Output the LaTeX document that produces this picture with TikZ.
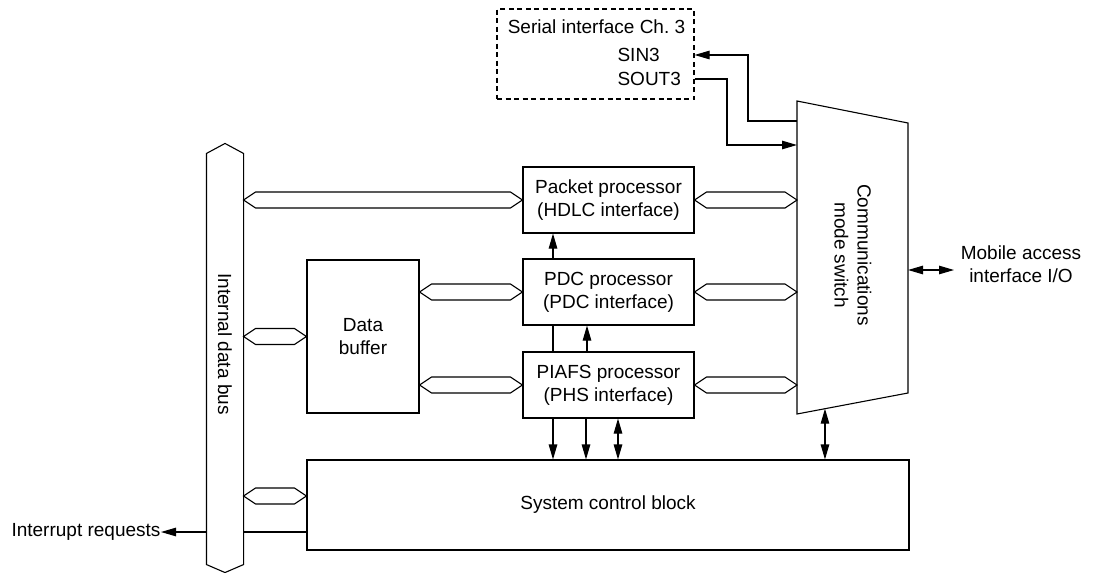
\documentclass[tikz,border=0pt]{standalone}
\usepackage{fontspec}
\setmainfont{Liberation Sans}
\usetikzlibrary{arrows.meta,calc}
\newcommand\hexconn[2]{\draw[hexa] (#1) -- ++(12,-8) -- ($(#2)+(-12,-8)$) -- (#2) -- ++(-12,8) -- ($(#1)+(12,8)$) -- cycle;}
\begin{document}
\begin{tikzpicture}[x=1pt,y=-1pt,
  line width=1.1pt,
  box/.style={draw, rectangle, inner sep=0pt, align=center, font=\fontsize{19}{23}\selectfont},
  lbl/.style={inner sep=0pt, align=center, font=\fontsize{19}{23}\selectfont},
  arr/.style={-{Triangle[length=15pt,width=8.5pt]}},
  darr/.style={{Triangle[length=15pt,width=8.5pt]}-{Triangle[length=15pt,width=8.5pt]}},
  hexa/.style={draw, line join=miter}]
\useasboundingbox (0,0) rectangle (1093,573);

% boxes
\node[box, dashed, dash pattern=on 5pt off 3.5pt, minimum width=197pt, minimum height=90pt] (serial) at (595.5,54) {};
\node[lbl] (serialt) at (596.5,27) {Serial interface Ch.~3};
\node[lbl, anchor=west] (sin) at (617,55) {SIN3};
\node[lbl, anchor=west] (sout) at (617,79) {SOUT3};

\node[box, minimum width=171pt, minimum height=66pt] (packet) at (608.5,200) {Packet processor\\(HDLC interface)};
\node[box, minimum width=171pt, minimum height=66pt] (pdc) at (608.5,292) {PDC processor\\(PDC interface)};
\node[box, minimum width=171pt, minimum height=66pt] (piafs) at (608.5,385) {PIAFS processor\\(PHS interface)};
\node[box, minimum width=112pt, minimum height=153pt] (buffer) at (363,336.5) {Data\\buffer};
\node[box, minimum width=602pt, minimum height=90pt] (system) at (608,505) {System control block};

% internal data bus
\node[minimum width=36pt, minimum height=428pt, inner sep=0pt] (bus) at (225,358) {};
\draw ($(bus.north west)+(0,10)$) -- (bus.north) -- ($(bus.north east)+(0,10)$) -- ($(bus.south east)+(0,-8)$) -- (bus.south) -- ($(bus.south west)+(0,-8)$) -- cycle;
\node[lbl, rotate=-90] (bust) at (225,344) {Internal data bus};

% communications mode switch
\coordinate (swtl) at (797,101);
\coordinate (swtr) at (908,123);
\coordinate (swbr) at (908,393);
\coordinate (swbl) at (797,414);
\draw (swtl) -- (swtr) -- (swbr) -- (swbl) -- cycle;
\node[lbl, rotate=-90] (swt) at (853,255) {Communications\\mode switch};

% serial connections
\coordinate (sinA) at (797,121);
\coordinate (soutB) at (797,145);
\draw[arr] (sinA) -| (748,55) -- (serial.east |- sin);
\draw[arr] (serial.east |- sout) -| (727,145) -- (soutB);

% hex bus connectors
\coordinate (h1a) at (bus.east |- packet.west);
\coordinate (h3a) at (bus.east |- buffer.west);
\coordinate (h4b) at (system.west |- 0,496);
\coordinate (h4a) at (bus.east |- h4b);
\hexconn{h1a}{packet.west}
\hexconn{h3a}{buffer.west}
\hexconn{h4a}{h4b}
\coordinate (b2) at (buffer.east |- pdc.west);
\coordinate (b3) at (buffer.east |- piafs.west);
\hexconn{b2}{pdc.west}
\hexconn{b3}{piafs.west}
\coordinate (s1) at (swbl |- packet.east);
\coordinate (s2) at (swbl |- pdc.east);
\coordinate (s3) at (swbl |- piafs.east);
\hexconn{packet.east}{s1}
\hexconn{pdc.east}{s2}
\hexconn{piafs.east}{s3}

% processor links
\draw[arr] (pdc.north -| 553,0) -- (packet.south -| 553,0);
\draw (piafs.north -| 553,0) -- (pdc.south -| 553,0);
\draw[arr] (piafs.north -| 587,0) -- (pdc.south -| 587,0);
\draw[arr] (piafs.south -| 553,0) -- (system.north -| 553,0);
\draw[arr] (piafs.south -| 586,0) -- (system.north -| 586,0);
\draw[darr] (piafs.south -| 618,0) -- (system.north -| 618,0);

% switch to system
\coordinate (swb) at ($(swbl)!0.252!(swbr)$);
\draw[darr] (swb) -- (system.north -| swb);

% mobile access
\coordinate (mobA) at (908,270);
\coordinate (mobB) at (954,270);
\draw[darr] (mobA) -- (mobB);
\node[lbl] (mobt) at (1021,264) {Mobile access\\interface I/O};

% interrupt
\coordinate (irqS) at (system.west |- 0,532);
\coordinate (irqB) at (bus.east |- irqS);
\draw (irqS) -- (irqB);
\node[lbl, anchor=east] (irqt) at (161,532) {Interrupt requests};
\coordinate (irqA) at (bus.west |- irqS);
\draw[arr] (irqA) -- (irqt.east);
\end{tikzpicture}
\end{document}
